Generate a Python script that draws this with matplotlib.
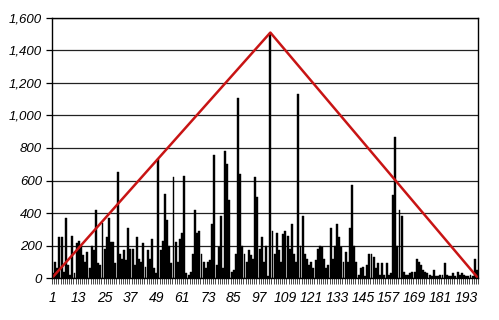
import matplotlib
matplotlib.use('Agg')
import matplotlib.pyplot as plt
import numpy as np
from matplotlib.ticker import FuncFormatter

# valeurs des barres (1 a 198)
values = [
    30, 100, 60, 250, 250, 40, 370, 80, 20, 260, 30, 215,
    230, 200, 140, 100, 160, 60, 200, 170, 420, 90, 80, 340,
    180, 250, 370, 220, 220, 90, 650, 150, 120, 175, 110, 310,
    180, 180, 80, 250, 120, 100, 215, 70, 175, 120, 240, 60,
    30, 730, 170, 230, 520, 360, 200, 90, 620, 220, 100, 240,
    280, 630, 30, 20, 40, 150, 420, 280, 290, 150, 100, 60,
    100, 110, 330, 760, 80, 190, 380, 60, 780, 700, 480, 40,
    50, 150, 1110, 640, 200, 150, 100, 170, 140, 120, 620, 500,
    180, 250, 100, 200, 10, 1510, 290, 150, 280, 170, 100, 270,
    290, 260, 180, 330, 150, 100, 1130, 200, 380, 150, 120, 80,
    100, 60, 110, 180, 200, 190, 120, 60, 80, 310, 120, 200,
    330, 250, 190, 100, 160, 100, 310, 570, 200, 100, 20, 60,
    70, 10, 80, 150, 150, 130, 60, 90, 20, 90, 20, 90,
    20, 30, 510, 870, 200, 420, 380, 40, 20, 20, 30, 40,
    40, 120, 100, 80, 50, 40, 30, 20, 10, 50, 10, 10,
    20, 20, 90, 20, 10, 10, 30, 10, 40, 20, 30, 20,
    10, 10, 20, 10, 120, 50,
]
categories = list(range(1, len(values) + 1))
x_labels = list(range(1, 194, 12))

# triangle rouge
tri_x = [0.5, 102, 198.5]
tri_y = [0, 1510, 0]

plt.rcParams['font.family'] = ['Liberation Sans', 'DejaVu Sans']

fig = plt.figure(figsize=(4.99, 3.2), dpi=100)
ax = fig.add_axes([0.104, 0.131, 0.854, 0.813])

ax.set_axisbelow(True)
ax.yaxis.grid(True, color='#222222', linewidth=0.9)
ax.bar(categories, values, width=0.9, color='black', edgecolor='black', linewidth=0.3)
ax.plot(tri_x, tri_y, color='#c81414', linewidth=1.8, solid_capstyle='round')

ax.set_xlim(0.5, len(values) + 0.5)
ax.set_ylim(0, 1600)
ax.set_yticks(range(0, 1601, 200))
ax.yaxis.set_major_formatter(FuncFormatter(lambda v, p: '{:,.0f}'.format(v)))

ax.set_xticks(x_labels)
ax.set_xticklabels([str(v) for v in x_labels])
ax.set_xticks(np.arange(0.5, len(values) + 1, 1), minor=True)
ax.tick_params(axis='x', which='major', length=0, pad=9, labelsize=10)
ax.tick_params(axis='x', which='minor', length=4, width=0.5)
ax.tick_params(axis='y', length=4, width=0.9, labelsize=9.5, pad=3)
for lbl in ax.get_xticklabels() + ax.get_yticklabels():
    lbl.set_fontstyle('italic')

for s in ax.spines.values():
    s.set_color('black')
    s.set_linewidth(1.0)

fig.savefig('out.png', dpi=100)
